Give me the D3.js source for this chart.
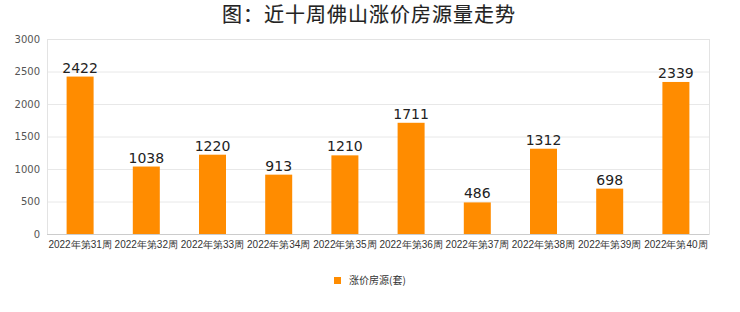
<!DOCTYPE html>
<html>
<head>
<meta charset="utf-8">
<script src="https://cdn.jsdelivr.net/npm/d3@7"></script>
<style>
  body { margin: 0; background: #fff; }
  svg { display: block; font-family: "Noto Sans CJK SC", "DejaVu Sans", sans-serif; }
</style>
</head>
<body>
<svg id="chart" width="740" height="312"></svg>
<script>
var weeks = ["2022年第31周", "2022年第32周", "2022年第33周", "2022年第34周", "2022年第35周",
  "2022年第36周", "2022年第37周", "2022年第38周", "2022年第39周", "2022年第40周"];
var counts = [2422, 1038, 1220, 913, 1210, 1711, 486, 1312, 698, 2339];
var yTicks = [0, 500, 1000, 1500, 2000, 2500, 3000];
var seriesName = "涨价房源(套)";
var title = "图：近十周佛山涨价房源量走势";

var svg = d3.select("#chart");
var margin = { top: 39, right: 31, bottom: 78, left: 47 };
var width = 740 - margin.left - margin.right;
var height = 312 - margin.top - margin.bottom;

svg.append("text")
  .attr("x", 369)
  .attr("y", 22)
  .attr("text-anchor", "middle")
  .attr("font-size", 20)
  .attr("fill", "#222")
  .attr("stroke", "#222")
  .attr("stroke-width", 0.15)
  .attr("letter-spacing", 1)
  .text(title);

var g = svg.append("g").attr("transform", `translate(${margin.left},${margin.top})`);

var x = d3.scaleBand().domain(weeks).range([0, width]).paddingInner(0).paddingOuter(0);
var y = d3.scaleLinear().domain([0, 3000]).range([height, 0]);

// grid
g.append("g")
  .selectAll("line")
  .data(yTicks)
  .enter()
  .append("line")
  .attr("x1", 0)
  .attr("x2", width)
  .attr("y1", d => y(d) + 0.5)
  .attr("y2", d => y(d) + 0.5)
  .attr("stroke", "#e8e8e8");

// frame
g.append("rect")
  .attr("x", 0.5)
  .attr("y", 0.5)
  .attr("width", width)
  .attr("height", height)
  .attr("fill", "none")
  .attr("stroke", "#e3e3e3");

var yAxis = g.append("g")
  .call(d3.axisLeft(y).tickValues(yTicks).tickFormat(d3.format("d")).tickSize(0).tickPadding(7));
yAxis.select(".domain").remove();
yAxis.selectAll("text")
  .attr("font-size", 10)
  .attr("fill", "#555")
  .attr("font-family", "DejaVu Sans, sans-serif");

var bw = 27;
g.append("g")
  .selectAll("rect")
  .data(counts)
  .enter()
  .append("rect")
  .attr("x", (d, i) => x(weeks[i]) + x.bandwidth() / 2 - bw / 2)
  .attr("width", bw)
  .attr("y", d => y(d))
  .attr("height", d => height - y(d))
  .attr("fill", "#FF8C00");

g.append("g")
  .selectAll("text")
  .data(counts)
  .enter()
  .append("text")
  .attr("x", (d, i) => x(weeks[i]) + x.bandwidth() / 2)
  .attr("y", d => y(d) - 4)
  .attr("text-anchor", "middle")
  .attr("font-size", 14)
  .attr("fill", "#222")
  .attr("font-family", "DejaVu Sans, sans-serif")
  .text(d => d);

// bottom axis line
g.append("line")
  .attr("x1", 0)
  .attr("x2", width)
  .attr("y1", height + 0.5)
  .attr("y2", height + 0.5)
  .attr("stroke", "#ccc");

var xAxis = g.append("g")
  .attr("transform", `translate(0,${height})`)
  .call(d3.axisBottom(x).tickSize(0).tickPadding(7));
xAxis.select(".domain").remove();
xAxis.selectAll("text")
  .attr("font-size", 10)
  .attr("fill", "#333");

// legend
var legend = svg.append("g").attr("transform", "translate(334,277)");
legend.append("rect")
  .attr("x", 0)
  .attr("y", 0)
  .attr("width", 7)
  .attr("height", 7)
  .attr("fill", "#FF8C00");
legend.append("text")
  .attr("x", 15)
  .attr("y", 7)
  .attr("font-size", 10)
  .attr("fill", "#333")
  .text(seriesName);
</script>
</body>
</html>
